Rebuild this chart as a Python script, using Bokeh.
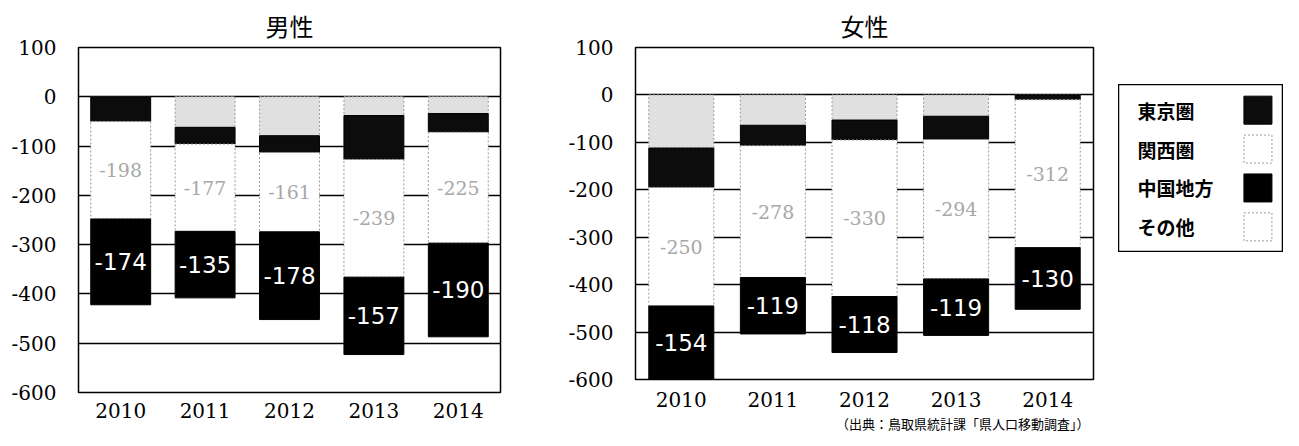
from bokeh.plotting import figure
from bokeh.layouts import row, column
from bokeh.models import FactorRange, Range1d, FixedTicker, Div, ColumnDataSource, Spacer
from bokeh.core.properties import value
from bokeh.embed import file_html
from bokeh.resources import INLINE

# ---------------- data ----------------
years = ["2010", "2011", "2012", "2013", "2014"]
stack_keys = ["other", "tokyo", "kansai", "chugoku"]          # order from zero downward
series_names = {"tokyo": "東京圏", "kansai": "関西圏", "chugoku": "中国地方", "other": "その他"}
legend_keys = ["tokyo", "kansai", "chugoku", "other"]

male_other = [0, -62, -79, -38, -34]
male_tokyo = [-50, -34, -34, -89, -38]
male_kansai = [-198, -177, -161, -239, -225]
male_chugoku = [-174, -135, -178, -157, -190]

female_other = [-112, -64, -53, -45, 0]
female_tokyo = [-83, -43, -42, -49, -10]
female_kansai = [-250, -278, -330, -294, -312]
female_chugoku = [-154, -119, -118, -119, -130]

y_ticks = [100, 0, -100, -200, -300, -400, -500, -600]
y_tick_labels = ["100", "0", "-100", "-200", "-300", "-400", "-500", "-600"]

source_note = "（出典：鳥取県統計課「県人口移動調査」）"

# ---------------- styles ----------------
fills = {"other": "#e0e0e0", "tokyo": "#0c0c0c", "kansai": "#ffffff", "chugoku": "#000000"}
lines = {"other": "#9a9a9a", "tokyo": "#000000", "kansai": "#9a9a9a", "chugoku": "#000000"}
dashes = {"other": "2 2", "tokyo": "solid", "kansai": "2 2", "chugoku": "solid"}

SERIF = "DejaVu Serif"
CJK = "Noto Sans CJK JP"


def make_panel(title, other, tokyo, kansai, chugoku, width, height, borders, bar_width, x_standoff):
    top, right, bottom, left = borders
    src = ColumnDataSource(dict(year=years, other=other, tokyo=tokyo, kansai=kansai, chugoku=chugoku))
    p = figure(x_range=FactorRange(*years), y_range=Range1d(-600, 100),
               width=width, height=height, output_backend="svg", toolbar_location=None,
               min_border_top=top, min_border_right=right, min_border_bottom=bottom,
               min_border_left=left)
    p.title.text = title
    p.title.align = "center"
    p.title.text_font = CJK
    p.title.text_font_size = "24px"
    p.title.text_font_style = "normal"
    p.title.text_color = "black"

    p.vbar_stack(stack_keys, x="year", width=bar_width, source=src,
                 fill_color=[fills[k] for k in stack_keys],
                 line_color=[lines[k] for k in stack_keys],
                 line_dash=[dashes[k] for k in stack_keys],
                 line_width=1)

    base = [o + t for o, t in zip(other, tokyo)]
    kansai_mid = [b + k / 2 for b, k in zip(base, kansai)]
    chugoku_mid = [b + k + c / 2 for b, k, c in zip(base, kansai, chugoku)]
    p.text(x=years, y=kansai_mid, text=[str(v) for v in kansai],
           text_align="center", text_baseline="middle",
           text_font=value(SERIF), text_font_size="19px", text_color="#a8a8a8")
    p.text(x=years, y=chugoku_mid, text=[str(v) for v in chugoku],
           text_align="center", text_baseline="middle",
           text_font=value("DejaVu Sans"), text_font_size="23px", text_color="white")

    p.xgrid.visible = False
    p.ygrid.ticker = FixedTicker(ticks=y_ticks)
    p.ygrid.grid_line_color = "black"
    p.ygrid.grid_line_width = 1.5
    p.outline_line_color = "black"
    p.outline_line_width = 1.5

    p.yaxis.ticker = FixedTicker(ticks=y_ticks)
    p.yaxis.major_label_overrides = dict(zip(y_ticks, y_tick_labels))
    for ax in (p.xaxis[0], p.yaxis[0]):
        ax.axis_line_color = None
        ax.major_tick_line_color = None
        ax.major_tick_out = 0
        ax.major_tick_in = 0
        ax.minor_tick_line_color = None
        ax.major_label_text_font = SERIF
        ax.major_label_text_font_size = "20px"
        ax.major_label_text_color = "black"
    p.yaxis.major_label_standoff = 22
    p.xaxis.major_label_standoff = x_standoff
    return p


p_male = make_panel("男性", male_other, male_tokyo, male_kansai, male_chugoku,
                    width=552, height=430, borders=(39, 52, 38, 78), bar_width=0.71, x_standoff=10)
p_female = make_panel("女性", female_other, female_tokyo, female_kansai, female_chugoku,
                      width=550, height=418, borders=(39, 9, 39, 83), bar_width=0.71, x_standoff=12)

note = Div(text=source_note, width=266, height=12, margin=(0, 0, 0, 284),
           styles={"font-size": "13px", "font-family": CJK, "line-height": "12px",
                   "white-space": "nowrap", "color": "black"})

# ---------------- legend ----------------
leg = figure(width=165, height=168, x_range=Range1d(0, 1),
             y_range=FactorRange(*[series_names[k] for k in reversed(legend_keys)], range_padding=0.08),
             x_axis_type=None, y_axis_type=None, output_backend="svg", toolbar_location=None,
             min_border=0)
leg.grid.visible = False
leg.outline_line_color = "black"
leg.outline_line_width = 1.5
leg_names = [series_names[k] for k in legend_keys]
leg.text(x=[0.115] * 4, y=leg_names, text=leg_names, text_align="left", text_baseline="middle",
         text_font=value(CJK), text_font_size="19px", text_font_style="bold", text_color="black")
leg.rect(x=[0.845] * 4, y=leg_names, width=28, height=28, width_units="screen", height_units="screen",
         fill_color=[fills[k] if k != "other" else "#ffffff" for k in legend_keys],
         line_color=[lines[k] for k in legend_keys],
         line_dash=[dashes[k] for k in legend_keys], line_width=1)

legend_col = column(Spacer(width=165, height=84), leg)

layout = row(p_male, column(p_female, note), Spacer(width=16, height=10), legend_col)

open("out.html", "w").write(file_html(layout, INLINE))
